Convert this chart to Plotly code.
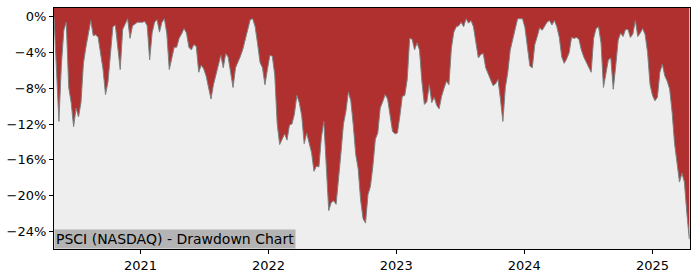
import pandas as pd
import plotly.graph_objects as go

# Weekly drawdown values (%), starting 2020-04-29
start_date = "2020-04-29"
drawdown = [
    0, -5.4, -11.7, -5.4, -1.5, -0.6, -7.9, -9.6, -12.3, -10.2,
    -11.2, -9.6, -5.2, -3.4, -1.8, -0.4, -2.1, -2.0, -2.3, -4.0,
    -5.9, -8.7, -7.3, -4.2, -1.1, -0.9, -3.7, -5.9, -1.4, -0.8,
    -0.2, -2.4, -1.0, -0.8, -0.6, -0.6, -0.6, -0.5, -1.0, -4.8,
    -1.8, -0.6, -0.3, -1.7, -0.6, -0.2, -1.9, -5.9, -4.6, -3.4,
    -3.4, -2.4, -1.9, -1.3, -1.8, -3.4, -3.7, -3.1, -3.3, -6.2,
    -5.4, -5.8, -6.6, -7.9, -9.2, -7.6, -6.5, -5.6, -4.3, -5.7,
    -4.1, -4.5, -6.4, -7.9, -5.7, -5.1, -4.4, -3.6, -2.4, -1.2,
    -0.3, -0.2, -1.1, -3.0, -5.1, -5.7, -7.6, -5.9, -4.3, -4.4,
    -6.5, -12.0, -14.3, -13.7, -13.1, -13.8, -12.1, -12.0, -10.9, -8.8,
    -9.6, -11.1, -14.2, -13.0, -14.2, -15.2, -17.3, -16.7, -16.8, -13.5,
    -11.7, -16.4, -21.7, -20.8, -20.6, -21.0, -18.4, -15.2, -12.0, -10.6,
    -8.4, -9.4, -12.1, -15.4, -17.0, -20.5, -22.6, -23.1, -19.9, -19.0,
    -16.7, -13.7, -13.0, -10.2, -9.5, -8.7, -9.2, -10.9, -12.8, -13.1,
    -13.0, -11.1, -8.9, -8.8, -7.0, -2.4, -2.5, -3.7, -2.9, -3.7,
    -7.3, -9.8, -9.5, -7.6, -9.6, -9.0, -9.9, -10.3, -8.9, -8.0,
    -7.2, -7.6, -3.5, -1.7, -1.1, -1.0, -0.6, -1.1, -0.2, -0.7,
    -0.4, -1.1, -2.8, -4.6, -4.2, -4.1, -5.7, -6.3, -6.9, -7.7,
    -7.5, -7.0, -9.2, -11.7, -7.9, -6.2, -3.7, -2.4, -1.3, -0.2,
    -0.2, -0.2, -1.2, -3.7, -5.5, -5.7, -3.1, -2.2, -1.2, -1.5,
    -1.0, -0.6, -0.4, -0.9, -0.4, -1.1, -2.3, -4.5, -5.2, -4.7,
    -4.0, -2.3, -2.4, -2.3, -2.5, -3.7, -4.5, -5.1, -5.6, -6.2,
    -2.4, -1.3, -1.1, -2.9, -7.9, -6.5, -4.8, -4.6, -8.1, -5.5,
    -2.6, -1.8, -2.2, -1.4, -1.4, -2.3, -1.9, -0.4, -2.2, -1.8,
    -1.3, -2.0, -4.0, -7.6, -8.8, -9.4, -9.0, -6.2, -5.3, -6.6,
    -7.2, -8.1, -10.7, -14.2, -16.7, -18.5, -17.5, -18.5, -22.0, -24.9,
]
dates = pd.date_range(start_date, periods=len(drawdown), freq="7D")

year_ticks = ["2021-01-01", "2022-01-01", "2023-01-01", "2024-01-01", "2025-01-01"]
year_labels = ["2021", "2022", "2023", "2024", "2025"]
y_ticks = [0, -4, -8, -12, -16, -20, -24]
y_labels = ["0%", "\u22124%", "\u22128%", "\u221212%", "\u221216%", "\u221220%", "\u221224%"]
title_text = "PSCI (NASDAQ) - Drawdown Chart"
y_top = 1

fig = go.Figure()
# top edge of the shaded area (plot top)
fig.add_trace(go.Scatter(
    x=dates, y=[y_top] * len(drawdown), mode="lines",
    line=dict(width=0, color="rgba(0,0,0,0)"),
    hoverinfo="skip", showlegend=False,
))
fig.add_trace(go.Scatter(
    x=dates, y=drawdown, mode="lines", fill="tonexty",
    fillcolor="#B03030", line=dict(color="#808080", width=1),
    hoverinfo="skip", showlegend=False,
))

font = dict(family="DejaVu Sans", size=13, color="#000000")
fig.update_layout(
    width=700, height=280,
    margin=dict(l=53, r=10, t=7, b=28),
    paper_bgcolor="#FFFFFF", plot_bgcolor="#EEEEEE",
    font=font, showlegend=False,
)
fig.update_xaxes(
    range=["2020-04-29", "2025-04-18"],
    tickvals=year_ticks, ticktext=year_labels,
    showgrid=False, zeroline=False,
    showline=True, linecolor="#000000", linewidth=1, mirror=True,
    ticks="outside", ticklen=4, tickcolor="#000000", tickfont=font,
)
fig.update_yaxes(
    range=[-26, y_top],
    tickvals=y_ticks, ticktext=y_labels,
    showgrid=False, zeroline=False,
    showline=True, linecolor="#000000", linewidth=1, mirror=True,
    ticks="outside", ticklen=4, tickcolor="#000000", tickfont=font,
)
fig.add_annotation(
    text=title_text, xref="paper", yref="paper", x=0, y=0,
    xanchor="left", yanchor="bottom", showarrow=False,
    bgcolor="#B4B4B4", borderpad=1,
    font=dict(family="DejaVu Sans", size=14, color="#000000"),
)
fig.write_html("out.html")
